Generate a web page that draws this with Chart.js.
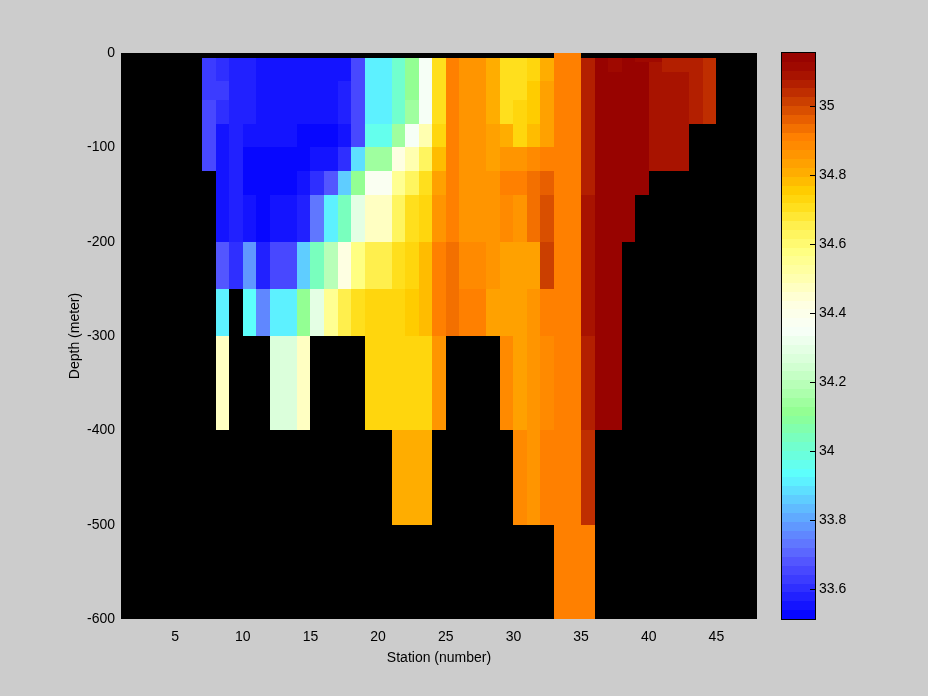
<!DOCTYPE html>
<html>
<head>
<meta charset="utf-8">
<script src="https://cdn.jsdelivr.net/npm/chart.js@4.4.1/dist/chart.umd.min.js"></script>
<style>
html,body{margin:0;padding:0;background:#cccccc;}
#wrap{position:relative;width:928px;height:696px;background:#cccccc;}
#wrap canvas{position:absolute;left:0;top:0;}
</style>
</head>
<body>
<div id="wrap">
<canvas id="main" width="928" height="696"></canvas>
<canvas id="cbar" width="928" height="696"></canvas>
</div>
<script>
// ---------------- DATA ----------------
const N = null;
// each station cell spans [station, station+1]
const stations = [7,8,9,10,11,12,13,14,15,16,17,18,19,20,21,22,23,24,25,26,27,28,29,30,31,32,33,34,35,36,37,38,39,40,41,42,43,44];
// depth layer edges (meter); layer k spans depthEdges[k]..depthEdges[k+1]
const depthEdges = [0,5,10,20,30,50,75,100,125,150,200,250,300,400,500,600];
// salinity per depth layer, one value per station (stations 7..44)
const sal_0 = [N,N,N,N,N,N,N,N,N,N, N,N,N,N,N,N,N,N,N,N, N,N,N,N,N,N,34.91,34.91,N,N, N,N,N,N,N,N,N,N];
const sal_5 = [33.63,33.59,33.585,33.585,33.56,33.56,33.56,33.56,33.56,33.56,
  33.56,33.65,33.91,33.91,34.01,34.11,34.34,34.70,34.91,34.855,
  34.855,34.80,34.70,34.70,34.73,34.80,34.91,34.91,35.06,35.14,
  35.11,35.14,35.11,35.11,35.06,35.06,35.06,35.035];
const sal_10 = [33.63,33.59,33.585,33.585,33.56,33.56,33.56,33.56,33.56,33.56,
  33.56,33.65,33.91,33.91,34.01,34.11,34.34,34.70,34.91,34.855,
  34.855,34.80,34.70,34.70,34.73,34.80,34.91,34.91,35.06,35.14,
  35.11,35.14,35.14,35.09,35.06,35.06,35.06,35.035];
const sal_20 = [33.63,33.59,33.585,33.585,33.56,33.56,33.56,33.56,33.56,33.56,
  33.56,33.65,33.91,33.91,34.01,34.11,34.34,34.70,34.91,34.855,
  34.855,34.80,34.70,34.70,34.73,34.80,34.91,34.91,35.06,35.14,
  35.14,35.14,35.14,35.09,35.09,35.09,35.06,35.035];
const sal_30 = [33.63,33.63,33.585,33.585,33.56,33.56,33.56,33.56,33.56,33.56,
  33.575,33.65,33.91,33.91,34.01,34.11,34.34,34.70,34.91,34.855,
  34.855,34.80,34.70,34.70,34.75,34.83,34.91,34.91,35.06,35.14,
  35.14,35.14,35.14,35.09,35.09,35.09,35.06,35.035];
const sal_50 = [33.65,33.59,33.585,33.585,33.56,33.56,33.56,33.56,33.56,33.56,
  33.575,33.65,33.91,33.91,34.02,34.15,34.34,34.70,34.91,34.855,
  34.855,34.80,34.70,34.73,34.75,34.83,34.91,34.91,35.06,35.14,
  35.14,35.14,35.14,35.09,35.09,35.09,35.06,35.035];
const sal_75 = [33.65,33.56,33.585,33.54,33.54,33.54,33.54,33.52,33.52,33.52,
  33.54,33.65,33.96,33.96,34.15,34.34,34.50,34.73,34.91,34.855,
  34.855,34.83,34.80,34.73,34.77,34.83,34.91,34.91,35.06,35.14,
  35.14,35.14,35.14,35.09,35.09,35.09,N,N];
const sal_100 = [33.65,33.55,33.585,33.52,33.52,33.52,33.52,33.52,33.54,33.56,
  33.60,33.88,34.15,34.15,34.41,34.50,34.63,34.77,34.91,34.855,
  34.855,34.83,34.855,34.855,34.875,34.91,34.91,34.91,35.06,35.14,
  35.14,35.14,35.14,35.09,35.09,35.09,N,N];
const sal_125 = [N,33.55,33.585,33.52,33.52,33.52,33.52,33.54,33.60,33.69,
  33.85,34.11,34.37,34.37,34.55,34.63,34.70,34.83,34.91,34.855,
  34.855,34.855,34.91,34.91,34.935,34.96,34.91,34.91,35.06,35.14,
  35.14,35.14,35.14,N,N,N,N,N];
const sal_150 = [N,33.56,33.585,33.56,33.52,33.54,33.54,33.585,33.72,33.91,
  34.05,34.29,34.47,34.47,34.63,34.70,34.73,34.855,34.91,34.855,
  34.855,34.855,34.885,34.855,34.935,34.99,34.91,34.91,35.09,35.14,
  35.14,35.14,N,N,N,N,N,N];
const sal_200 = [N,33.69,33.60,33.77,33.585,33.65,33.65,33.85,34.05,34.19,
  34.41,34.58,34.66,34.66,34.70,34.73,34.78,34.91,34.935,34.875,
  34.875,34.855,34.83,34.83,34.83,35.01,34.91,34.91,35.09,35.14,
  35.14,N,N,N,N,N,N,N];
const sal_250 = [N,33.91,N,33.94,33.745,33.91,33.91,34.11,34.29,34.55,
  34.66,34.70,34.73,34.73,34.73,34.75,34.77,34.91,34.935,34.91,
  34.91,34.83,34.83,34.83,34.855,34.91,34.91,34.91,35.09,35.14,
  35.14,N,N,N,N,N,N,N];
const sal_300 = [N,34.48,N,N,N,34.27,34.27,34.48,N,N,
  N,N,34.73,34.73,34.73,34.73,34.74,34.855,N,N,
  N,N,34.875,34.83,34.855,34.875,34.91,34.91,35.06,35.14,
  35.14,N,N,N,N,N,N,N];
const sal_400 = [N,N,N,N,N,N,N,N,N,N,
  N,N,N,N,34.80,34.80,34.80,N,N,N,
  N,N,N,34.875,34.855,34.91,34.91,34.91,35.045,N,
  N,N,N,N,N,N,N,N];
const sal_500 = [N,N,N,N,N,N,N,N,N,N,
  N,N,N,N,N,N,N,N,N,N,
  N,N,N,N,N,N,34.91,34.91,34.91,N,
  N,N,N,N,N,N,N,N];
const salinityLayers = [sal_0,sal_5,sal_10,sal_20,sal_30,sal_50,sal_75,sal_100,sal_125,sal_150,sal_200,sal_250,sal_300,sal_400,sal_500];

const xTicks = [5,10,15,20,25,30,35,40,45];
const yTicks = [-600,-500,-400,-300,-200,-100,0];
const colorLimits = [33.513, 35.153];
const colorbarTicks = [33.6,33.8,34.0,34.2,34.4,34.6,34.8,35.0];
const colorbarTickLabels = ['33.6','33.8','34','34.2','34.4','34.6','34.8','35'];

// ---------------- STYLE ----------------
const FONT = "'Liberation Sans', Arial, Helvetica, sans-serif";
const NLEVELS = 64;
const cmapStops = [
  [33.513,'#0000ff'],[33.56,'#1818ff'],[33.62,'#3838ff'],[33.67,'#5050ff'],
  [33.72,'#6070ff'],[33.77,'#6090ff'],[33.84,'#60c0ff'],[33.93,'#5cffff'],
  [34.01,'#70ffd0'],[34.11,'#90ff90'],[34.24,'#d0ffd0'],[34.35,'#f8fff8'],
  [34.43,'#ffffe0'],[34.50,'#ffffb0'],[34.58,'#ffff80'],[34.65,'#fff050'],
  [34.70,'#ffe020'],[34.75,'#ffd000'],[34.80,'#ffb000'],[34.86,'#ff9400'],
  [34.91,'#ff8000'],[34.96,'#e86000'],[35.01,'#cc4000'],[35.06,'#b42000'],
  [35.11,'#a00a00'],[35.153,'#940000']
];
function hex2rgb(h){return [parseInt(h.substr(1,2),16),parseInt(h.substr(3,2),16),parseInt(h.substr(5,2),16)];}
function interpColor(v){
  if (v <= cmapStops[0][0]) return cmapStops[0][1];
  for (let i=1;i<cmapStops.length;i++){
    if (v <= cmapStops[i][0]){
      const [v0,c0]=cmapStops[i-1],[v1,c1]=cmapStops[i];
      const t=(v-v0)/(v1-v0), a=hex2rgb(c0), b=hex2rgb(c1);
      return 'rgb('+a.map((q,j)=>Math.round(q+(b[j]-q)*t)).join(',')+')';
    }
  }
  return cmapStops[cmapStops.length-1][1];
}
function levelColor(k){
  const step=(colorLimits[1]-colorLimits[0])/NLEVELS;
  return interpColor(colorLimits[0]+(k+0.5)*step);
}
function colorFor(v){
  let k=Math.floor((v-colorLimits[0])/(colorLimits[1]-colorLimits[0])*NLEVELS);
  k=Math.max(0,Math.min(NLEVELS-1,k));
  return levelColor(k);
}

// ---------------- MAIN CHART ----------------
const heatmapPlugin = {
  id:'heatmap',
  beforeDatasetsDraw(chart){
    const {ctx, chartArea:a, scales:{x,y}} = chart;
    ctx.save();
    ctx.fillStyle='#000000';
    ctx.fillRect(a.left,a.top,a.right-a.left,a.bottom-a.top);
    ctx.beginPath(); ctx.rect(a.left,a.top,a.right-a.left,a.bottom-a.top); ctx.clip();
    salinityLayers.forEach((row,r)=>{
      const y0=Math.round(y.getPixelForValue(-depthEdges[r]));
      const y1=Math.round(y.getPixelForValue(-depthEdges[r+1]));
      row.forEach((v,i)=>{
        if (v===null||v===undefined) return;
        const s=stations[i];
        const x0=Math.round(x.getPixelForValue(s));
        const x1=Math.round(x.getPixelForValue(s+1));
        ctx.fillStyle=colorFor(v);
        ctx.fillRect(x0,y0,x1-x0,y1-y0);
      });
    });
    ctx.restore();
  }
};
const bgPlugin = {
  id:'bg',
  beforeDraw(chart){
    const c=chart.ctx; c.save(); c.fillStyle='#cccccc'; c.fillRect(0,0,chart.width,chart.height); c.restore();
  }
};

new Chart(document.getElementById('main'),{
  type:'scatter',
  data:{datasets:[{data:[],pointRadius:0}]},
  options:{
    responsive:false, animation:false, devicePixelRatio:1,
    layout:{padding:{left:67,top:53,right:171,bottom:27}},
    plugins:{legend:{display:false},tooltip:{enabled:false}},
    scales:{
      x:{type:'linear',min:1,max:48,
        afterBuildTicks:s=>{s.ticks=xTicks.map(v=>({value:v}));},
        afterFit:s=>{s.height=50;},
        grid:{display:false,drawTicks:false}, border:{display:false},
        ticks:{color:'#000',padding:10,font:{family:FONT,size:14},callback:v=>String(v),maxRotation:0},
        title:{display:true,text:'Station (number)',color:'#000',font:{family:FONT,size:14},padding:{top:0,bottom:2}}
      },
      y:{type:'linear',min:-600,max:0,
        afterBuildTicks:s=>{s.ticks=yTicks.map(v=>({value:v}));},
        afterFit:s=>{s.width=54;},
        grid:{display:false,drawTicks:false}, border:{display:false},
        ticks:{color:'#000',padding:6,font:{family:FONT,size:14},callback:v=>String(v)},
        title:{display:true,text:'Depth (meter)',color:'#000',font:{family:FONT,size:14},padding:{top:0,bottom:0}}
      }
    }
  },
  plugins:[bgPlugin,heatmapPlugin]
});

// ---------------- COLORBAR ----------------
const colorbarPlugin = {
  id:'colorbar',
  beforeDatasetsDraw(chart){
    const {ctx, chartArea:a, scales:{y}} = chart;
    const step=(colorLimits[1]-colorLimits[0])/NLEVELS;
    ctx.save();
    for (let k=0;k<NLEVELS;k++){
      const yb=Math.round(y.getPixelForValue(colorLimits[0]+k*step));
      const yt=Math.round(y.getPixelForValue(colorLimits[0]+(k+1)*step));
      ctx.fillStyle=levelColor(k);
      ctx.fillRect(a.left,yt,a.right-a.left,yb-yt);
    }
    ctx.strokeStyle='#000'; ctx.lineWidth=1;
    ctx.strokeRect(a.left-0.5,a.top-0.5,a.right-a.left+1,a.bottom-a.top+1);
    ctx.beginPath();
    colorbarTicks.forEach(v=>{
      const yy=Math.round(y.getPixelForValue(v))+0.5;
      ctx.moveTo(a.right-5,yy); ctx.lineTo(a.right,yy);
    });
    ctx.stroke();
    ctx.restore();
  }
};
new Chart(document.getElementById('cbar'),{
  type:'scatter',
  data:{datasets:[{data:[],pointRadius:0}]},
  options:{
    responsive:false, animation:false, devicePixelRatio:1,
    layout:{padding:{left:782,top:53,right:73,bottom:77}},
    plugins:{legend:{display:false},tooltip:{enabled:false}},
    scales:{
      x:{type:'linear',min:0,max:1,display:false},
      y:{type:'linear',position:'right',min:colorLimits[0],max:colorLimits[1],
        afterBuildTicks:s=>{s.ticks=colorbarTicks.map(v=>({value:v}));},
        afterFit:s=>{s.width=40;},
        grid:{display:false,drawTicks:false}, border:{display:false},
        ticks:{color:'#000',padding:4,font:{family:FONT,size:14},
          callback:(v,i)=>colorbarTickLabels[i]}
      }
    }
  },
  plugins:[colorbarPlugin]
});
</script>
</body>
</html>
